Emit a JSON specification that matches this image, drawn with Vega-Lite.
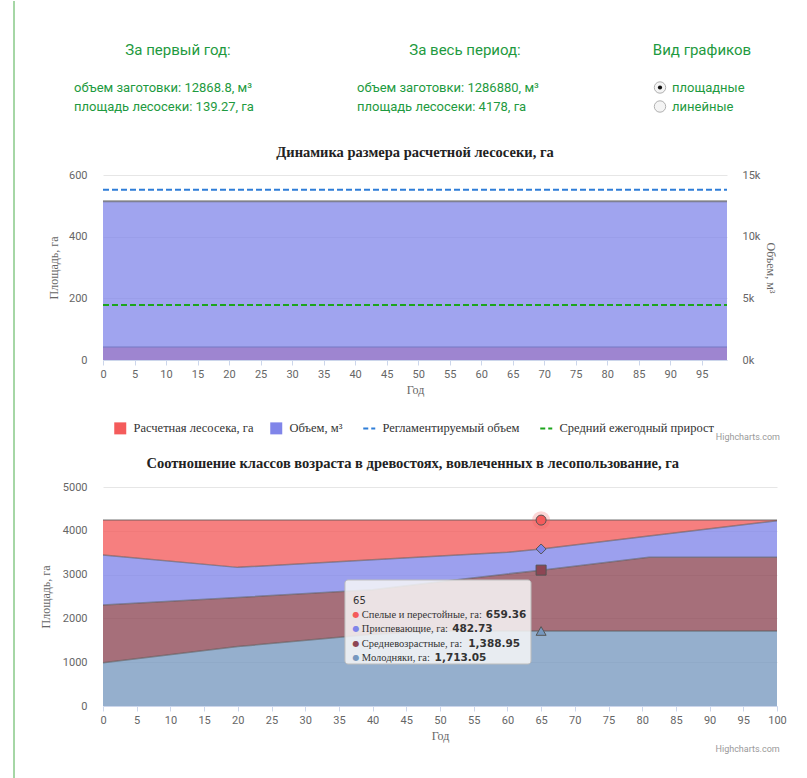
{
  "$schema": "https://vega.github.io/schema/vega-lite/v6.json",
  "padding": {"left": 13, "top": 0, "right": 0, "bottom": 0},
  "background": "white",
  "config": {
    "view": {"stroke": null},
    "axis": {
      "labelFont": "Roboto, sans-serif",
      "labelFontSize": 11, "labelColor": "#666666",
      "titleFont": "Liberation Serif, DejaVu Serif, serif", "titleFontSize": 12,
      "titleFontWeight": "normal", "titleColor": "#666666",
      "gridColor": "#e6e6e6", "domainColor": "#ccd6eb", "tickColor": "#ccd6eb"
    },
    "title": {"font": "Liberation Serif, DejaVu Serif, serif", "fontSize": 14.5, "fontWeight": "bold", "color": "#222222"}
  },
  "spacing": 24,
  "hconcat": [
    {
      "width": 1, "height": 700,
      "data": {"values": [{}]},
      "mark": {"type": "rule", "color": "#4cae4c", "strokeWidth": 1},
      "encoding": {
        "x": {"value": 0},
        "y": {"datum": 0, "type": "quantitative", "scale": {"domain": [0, 1], "range": [-77, 701]}, "axis": null},
        "y2": {"datum": 1}
      }
    },
    {
      "spacing": 9,
      "resolve": {"scale": {"color": "independent", "shape": "independent"}, "legend": {"color": "independent"}},
      "vconcat": [
        {
          "spacing": 10,
          "hconcat": [
            {
              "width": 180, "height": 57,
              "title": {"text": "За первый год:", "font": "Roboto, sans-serif", "fontSize": 15, "fontWeight": "normal", "color": "#1e9a40", "anchor": "middle", "frame": "group", "offset": 20, "dx": -15},
              "data": {"values": [{"row": "a", "t": "объем заготовки: 12868.8, м³"}, {"row": "b", "t": "площадь лесосеки: 139.27, га"}]},
              "mark": {"type": "text", "align": "left", "baseline": "middle", "font": "Roboto, sans-serif", "fontSize": 13, "color": "#1e9a40"},
              "encoding": {
                "x": {"value": -29},
                "y": {"field": "row", "type": "ordinal", "scale": {"domain": ["a", "b", "c"]}, "axis": null},
                "text": {"field": "t"}
              }
            },
            {
              "width": 349, "height": 57,
              "title": {"text": "За весь период:", "font": "Roboto, sans-serif", "fontSize": 15, "fontWeight": "normal", "color": "#1e9a40", "anchor": "middle", "frame": "group", "offset": 20, "dx": -2.5},
              "data": {"values": [{"row": "a", "t": "объем заготовки: 1286880, м³"}, {"row": "b", "t": "площадь лесосеки: 4178, га"}]},
              "mark": {"type": "text", "align": "left", "baseline": "middle", "font": "Roboto, sans-serif", "fontSize": 13, "color": "#1e9a40"},
              "encoding": {
                "x": {"value": 64},
                "y": {"field": "row", "type": "ordinal", "scale": {"domain": ["a", "b", "c"]}, "axis": null},
                "text": {"field": "t"}
              }
            },
            {
              "width": 96, "height": 57,
              "title": {"text": "Вид графиков", "font": "Roboto, sans-serif", "fontSize": 15, "fontWeight": "normal", "color": "#1e9a40", "anchor": "middle", "frame": "group", "offset": 20},
              "data": {"values": [{"row": "a", "t": "площадные", "sel": true}, {"row": "b", "t": "линейные", "sel": false}]},
              "encoding": {
                "y": {"field": "row", "type": "ordinal", "scale": {"domain": ["a", "b", "c"]}, "axis": null}
              },
              "layer": [
                {"mark": {"type": "point", "shape": "circle", "size": 130, "filled": true, "fill": "#f4f4f4", "stroke": "#b0b0b0", "strokeWidth": 1, "opacity": 1}, "encoding": {"x": {"value": 6}}},
                {"transform": [{"filter": "datum.sel"}], "mark": {"type": "point", "shape": "circle", "size": 18, "filled": true, "color": "#111111", "opacity": 1}, "encoding": {"x": {"value": 6}}},
                {"mark": {"type": "text", "align": "left", "baseline": "middle", "font": "Roboto, sans-serif", "fontSize": 13, "color": "#1e9a40"}, "encoding": {"x": {"value": 18}, "text": {"field": "t"}}}
              ]
            }
          ]
        },
        {
          "width": 624, "height": 185,
          "title": {"text": "Динамика размера расчетной лесосеки, га", "offset": 9, "frame": "group", "anchor": "middle"},
          "data": {"values": [
            {"series": "Расчетная лесосека, га", "year": 0, "v": 41.78},
            {"series": "Расчетная лесосека, га", "year": 99, "v": 41.78},
            {"series": "Объем, м³", "year": 0, "v": 12868.8},
            {"series": "Объем, м³", "year": 99, "v": 12868.8},
            {"series": "Регламентируемый объем", "year": 0, "v": 13800},
            {"series": "Регламентируемый объем", "year": 99, "v": 13800},
            {"series": "Средний ежегодный прирост", "year": 0, "v": 4450},
            {"series": "Средний ежегодный прирост", "year": 99, "v": 4450}
          ]},
          "encoding": {
            "x": {"field": "year", "type": "quantitative", "scale": {"domain": [0, 99], "nice": false, "zero": false},
                  "axis": {"values": [0, 5, 10, 15, 20, 25, 30, 35, 40, 45, 50, 55, 60, 65, 70, 75, 80, 85, 90, 95], "title": "Год", "grid": false, "tickSize": 5, "labelPadding": 3, "titlePadding": 5, "labelFlush": false}}
          },
          "layer": [
            {
              "encoding": {
                "y": {"field": "v", "type": "quantitative", "scale": {"domain": [0, 600], "nice": false},
                      "axis": {"orient": "left", "values": [0, 200, 400, 600], "title": "Площадь, га", "grid": true, "ticks": false, "domain": false, "labelPadding": 16, "titlePadding": 8}}
              },
              "layer": [
                {"transform": [{"filter": "datum.series === 'Расчетная лесосека, га'"}],
                 "mark": {"type": "area", "fillOpacity": 0.75},
                 "encoding": {"color": {"field": "series", "type": "nominal",
                   "scale": {"domain": ["Расчетная лесосека, га", "Объем, м³", "Регламентируемый объем", "Средний ежегодный прирост"], "range": ["#f45b5b", "#8085e9", "#2f7ed8", "#1ca51c"]},
                   "legend": {"title": null, "orient": "bottom", "direction": "horizontal", "offset": 16, "padding": 11,
                     "labelFont": "Liberation Serif, DejaVu Serif, serif", "labelFontSize": 12.5, "labelColor": "#333333",
                     "symbolSize": 144, "columnPadding": 16, "labelOffset": 7,
                     "encode": {"symbols": {"update": {
                       "shape": {"signal": "(datum.value === 'Регламентируемый объем' || datum.value === 'Средний ежегодный прирост') ? 'stroke' : 'square'"},
                       "fill": {"signal": "(datum.value === 'Регламентируемый объем' || datum.value === 'Средний ежегодный прирост') ? 'transparent' : scale('color', datum.value)"},
                       "stroke": {"signal": "(datum.value === 'Регламентируемый объем' || datum.value === 'Средний ежегодный прирост') ? scale('color', datum.value) : 'transparent'"},
                       "strokeDash": {"signal": "(datum.value === 'Регламентируемый объем' || datum.value === 'Средний ежегодный прирост') ? [5, 3] : [1, 0]"},
                       "strokeWidth": {"signal": "(datum.value === 'Регламентируемый объем' || datum.value === 'Средний ежегодный прирост') ? 2 : 0"},
                       "opacity": {"value": 1}, "fillOpacity": {"value": 1}, "strokeOpacity": {"value": 1}
                     }}}
                   }}}},
                {"transform": [{"filter": "datum.series === 'Расчетная лесосека, га'"}],
                 "mark": {"type": "line", "color": "#555555", "strokeWidth": 1.5, "opacity": 0.7}},
                {"transform": [{"filter": "datum.series === 'Объем, м³' && datum.year === 0"}],
                 "mark": {"type": "text", "align": "right", "baseline": "middle", "font": "Roboto, sans-serif", "fontSize": 9, "color": "#999999"},
                 "encoding": {"x": {"datum": 107.4}, "y": {"datum": -250}, "text": {"value": "Highcharts.com"}}}
              ]
            },
            {
              "encoding": {
                "y": {"field": "v", "type": "quantitative", "scale": {"domain": [0, 15000], "nice": false},
                      "axis": {"orient": "right", "values": [0, 5000, 10000, 15000], "labelExpr": "datum.value / 1000 + 'k'", "title": "Объем, м³", "grid": false, "ticks": false, "domain": false, "labelPadding": 15, "titlePadding": 4}}
              },
              "layer": [
                {"transform": [{"filter": "datum.series === 'Объем, м³'"}],
                 "mark": {"type": "area", "fillOpacity": 0.75},
                 "encoding": {"color": {"field": "series", "type": "nominal",
                   "scale": {"domain": ["Расчетная лесосека, га", "Объем, м³", "Регламентируемый объем", "Средний ежегодный прирост"], "range": ["#f45b5b", "#8085e9", "#2f7ed8", "#1ca51c"]}}}},
                {"transform": [{"filter": "datum.series === 'Объем, м³'"}],
                 "mark": {"type": "line", "color": "#666666", "strokeWidth": 2, "opacity": 0.7}},
                {"transform": [{"filter": "datum.series === 'Регламентируемый объем' || datum.series === 'Средний ежегодный прирост'"}],
                 "mark": {"type": "line", "strokeDash": [6, 3], "strokeWidth": 2},
                 "encoding": {"color": {"field": "series", "type": "nominal"}}}
              ]
            }
          ],
          "resolve": {"scale": {"y": "independent"}}
        },
        {
          "width": 674, "height": 219,
          "title": {"text": "Соотношение классов возраста в древостоях, вовлеченных в лесопользование, га", "offset": 10, "frame": "bounds", "anchor": "middle"},
          "data": {"values": [
            {"year": 0, "k": 1, "series": "Молодняки, га", "v": 985},
            {"year": 0, "k": 2, "series": "Средневозрастные, га", "v": 1319},
            {"year": 0, "k": 3, "series": "Приспевающие, га", "v": 1145},
            {"year": 0, "k": 4, "series": "Спелые и перестойные, га", "v": 795},
            {"year": 20, "k": 1, "series": "Молодняки, га", "v": 1357},
            {"year": 20, "k": 2, "series": "Средневозрастные, га", "v": 1122},
            {"year": 20, "k": 3, "series": "Приспевающие, га", "v": 686},
            {"year": 20, "k": 4, "series": "Спелые и перестойные, га", "v": 1079},
            {"year": 40, "k": 1, "series": "Молодняки, га", "v": 1640},
            {"year": 40, "k": 2, "series": "Средневозрастные, га", "v": 1014},
            {"year": 40, "k": 3, "series": "Приспевающие, га", "v": 683},
            {"year": 40, "k": 4, "series": "Спелые и перестойные, га", "v": 907},
            {"year": 50, "k": 1, "series": "Молодняки, га", "v": 1713},
            {"year": 50, "k": 2, "series": "Средневозрастные, га", "v": 1122},
            {"year": 50, "k": 3, "series": "Приспевающие, га", "v": 588},
            {"year": 50, "k": 4, "series": "Спелые и перестойные, га", "v": 821},
            {"year": 60, "k": 1, "series": "Молодняки, га", "v": 1713},
            {"year": 60, "k": 2, "series": "Средневозрастные, га", "v": 1302},
            {"year": 60, "k": 3, "series": "Приспевающие, га", "v": 493},
            {"year": 60, "k": 4, "series": "Спелые и перестойные, га", "v": 736},
            {"year": 65, "k": 1, "series": "Молодняки, га", "v": 1713.05},
            {"year": 65, "k": 2, "series": "Средневозрастные, га", "v": 1388.95},
            {"year": 65, "k": 3, "series": "Приспевающие, га", "v": 482.73},
            {"year": 65, "k": 4, "series": "Спелые и перестойные, га", "v": 659.36},
            {"year": 81, "k": 1, "series": "Молодняки, га", "v": 1713},
            {"year": 81, "k": 2, "series": "Средневозрастные, га", "v": 1681},
            {"year": 81, "k": 3, "series": "Приспевающие, га", "v": 486},
            {"year": 81, "k": 4, "series": "Спелые и перестойные, га", "v": 364},
            {"year": 100, "k": 1, "series": "Молодняки, га", "v": 1713},
            {"year": 100, "k": 2, "series": "Средневозрастные, га", "v": 1681},
            {"year": 100, "k": 3, "series": "Приспевающие, га", "v": 836},
            {"year": 100, "k": 4, "series": "Спелые и перестойные, га", "v": 14}
          ]},
          "transform": [{"stack": "v", "groupby": ["year"], "sort": [{"field": "k", "order": "ascending"}], "as": ["v0", "v1"]}],
          "encoding": {
            "x": {"field": "year", "type": "quantitative", "scale": {"domain": [0, 100], "nice": false, "zero": false},
                  "axis": {"values": [0, 5, 10, 15, 20, 25, 30, 35, 40, 45, 50, 55, 60, 65, 70, 75, 80, 85, 90, 95, 100], "title": "Год", "grid": false, "tickSize": 5, "labelPadding": 3, "titlePadding": 5, "labelFlush": false}}
          },
          "layer": [
            {"mark": {"type": "area", "fillOpacity": 0.78},
             "encoding": {
               "y": {"field": "v1", "type": "quantitative", "stack": null, "scale": {"domain": [0, 5000], "nice": false},
                     "axis": {"values": [0, 1000, 2000, 3000, 4000, 5000], "format": "d", "title": "Площадь, га", "grid": true, "ticks": false, "domain": false, "labelPadding": 16, "titlePadding": 10}},
               "y2": {"field": "v0"},
               "color": {"field": "series", "type": "nominal",
                 "scale": {"domain": ["Спелые и перестойные, га", "Приспевающие, га", "Средневозрастные, га", "Молодняки, га"], "range": ["#f45b5b", "#8085e9", "#8d4654", "#7798bf"]},
                 "legend": null}
             }},
            {"mark": {"type": "line", "color": "#555555", "strokeWidth": 1.5, "opacity": 0.55},
             "encoding": {"y": {"field": "v1", "type": "quantitative", "stack": null}, "detail": {"field": "series"}}},
            {"transform": [{"filter": "datum.year === 65 && datum.k === 4"}],
             "mark": {"type": "point", "shape": "circle", "filled": true, "size": 320, "color": "#f45b5b", "opacity": 0.25},
             "encoding": {"y": {"field": "v1", "type": "quantitative", "stack": null}}},
            {"transform": [{"filter": "datum.year === 65"}],
             "mark": {"type": "point", "filled": true, "size": 100, "stroke": "#555555", "strokeWidth": 1, "opacity": 1},
             "encoding": {
               "y": {"field": "v1", "type": "quantitative", "stack": null},
               "color": {"field": "series", "type": "nominal", "legend": null},
               "shape": {"field": "series", "type": "nominal",
                 "scale": {"domain": ["Спелые и перестойные, га", "Приспевающие, га", "Средневозрастные, га", "Молодняки, га"], "range": ["circle", "diamond", "square", "triangle-up"]},
                 "legend": null}
             }},
            {"transform": [{"filter": "datum.year === 65 && datum.k === 1"}],
             "mark": {"type": "rect", "fill": "#f7f7f7", "fillOpacity": 0.85, "stroke": "#bdbdbd", "strokeWidth": 1, "cornerRadius": 3},
             "encoding": {"x": {"datum": 35.9}, "x2": {"datum": 63.5}, "y": {"datum": 2877}, "y2": {"datum": 959}}},
            {"transform": [{"filter": "datum.year === 65 && datum.k === 1"}],
             "mark": {"type": "text", "align": "left", "baseline": "middle", "font": "DejaVu Sans", "fontSize": 10, "color": "#333333"},
             "encoding": {"x": {"datum": 37.1}, "y": {"datum": 2397}, "text": {"field": "year"}}},

            {"transform": [{"filter": "datum.year === 65 && datum.k === 4"}],
             "mark": {"type": "text", "align": "center", "baseline": "middle", "font": "DejaVu Sans", "fontSize": 8, "text": "●"},
             "encoding": {"x": {"datum": 37.55}, "y": {"datum": 2071}, "color": {"field": "series", "type": "nominal", "legend": null}}},
            {"transform": [{"filter": "datum.year === 65 && datum.k === 3"}],
             "mark": {"type": "text", "align": "center", "baseline": "middle", "font": "DejaVu Sans", "fontSize": 8, "text": "●"},
             "encoding": {"x": {"datum": 37.55}, "y": {"datum": 1751}, "color": {"field": "series", "type": "nominal", "legend": null}}},
            {"transform": [{"filter": "datum.year === 65 && datum.k === 2"}],
             "mark": {"type": "text", "align": "center", "baseline": "middle", "font": "DejaVu Sans", "fontSize": 8, "text": "●"},
             "encoding": {"x": {"datum": 37.55}, "y": {"datum": 1422}, "color": {"field": "series", "type": "nominal", "legend": null}}},
            {"transform": [{"filter": "datum.year === 65 && datum.k === 1"}],
             "mark": {"type": "text", "align": "center", "baseline": "middle", "font": "DejaVu Sans", "fontSize": 8, "text": "●"},
             "encoding": {"x": {"datum": 37.55}, "y": {"datum": 1103}, "color": {"field": "series", "type": "nominal", "legend": null}}},

            {"transform": [{"filter": "datum.year === 65 && datum.k === 4"}, {"calculate": "datum.series + ':'", "as": "lab"}],
             "mark": {"type": "text", "align": "left", "baseline": "middle", "font": "Liberation Serif, DejaVu Serif, serif", "fontSize": 10.5, "color": "#333333"},
             "encoding": {"x": {"datum": 38.4}, "y": {"datum": 2071}, "text": {"field": "lab"}}},
            {"transform": [{"filter": "datum.year === 65 && datum.k === 3"}, {"calculate": "datum.series + ':'", "as": "lab"}],
             "mark": {"type": "text", "align": "left", "baseline": "middle", "font": "Liberation Serif, DejaVu Serif, serif", "fontSize": 10.5, "color": "#333333"},
             "encoding": {"x": {"datum": 38.4}, "y": {"datum": 1751}, "text": {"field": "lab"}}},
            {"transform": [{"filter": "datum.year === 65 && datum.k === 2"}, {"calculate": "datum.series + ':'", "as": "lab"}],
             "mark": {"type": "text", "align": "left", "baseline": "middle", "font": "Liberation Serif, DejaVu Serif, serif", "fontSize": 10.5, "color": "#333333"},
             "encoding": {"x": {"datum": 38.4}, "y": {"datum": 1422}, "text": {"field": "lab"}}},
            {"transform": [{"filter": "datum.year === 65 && datum.k === 1"}, {"calculate": "datum.series + ':'", "as": "lab"}],
             "mark": {"type": "text", "align": "left", "baseline": "middle", "font": "Liberation Serif, DejaVu Serif, serif", "fontSize": 10.5, "color": "#333333"},
             "encoding": {"x": {"datum": 38.4}, "y": {"datum": 1103}, "text": {"field": "lab"}}},

            {"transform": [{"filter": "datum.year === 65 && datum.k === 4"}],
             "mark": {"type": "text", "align": "left", "baseline": "middle", "font": "DejaVu Sans", "fontSize": 10.5, "fontWeight": "bold", "color": "#333333"},
             "encoding": {"x": {"datum": 56.8}, "y": {"datum": 2071}, "text": {"field": "v", "format": ",.2f"}}},
            {"transform": [{"filter": "datum.year === 65 && datum.k === 3"}],
             "mark": {"type": "text", "align": "left", "baseline": "middle", "font": "DejaVu Sans", "fontSize": 10.5, "fontWeight": "bold", "color": "#333333"},
             "encoding": {"x": {"datum": 51.8}, "y": {"datum": 1751}, "text": {"field": "v", "format": ",.2f"}}},
            {"transform": [{"filter": "datum.year === 65 && datum.k === 2"}],
             "mark": {"type": "text", "align": "left", "baseline": "middle", "font": "DejaVu Sans", "fontSize": 10.5, "fontWeight": "bold", "color": "#333333"},
             "encoding": {"x": {"datum": 54.2}, "y": {"datum": 1422}, "text": {"field": "v", "format": ",.2f"}}},
            {"transform": [{"filter": "datum.year === 65 && datum.k === 1"}],
             "mark": {"type": "text", "align": "left", "baseline": "middle", "font": "DejaVu Sans", "fontSize": 10.5, "fontWeight": "bold", "color": "#333333"},
             "encoding": {"x": {"datum": 49.2}, "y": {"datum": 1103}, "text": {"field": "v", "format": ",.2f"}}},

            {"transform": [{"filter": "datum.year === 65 && datum.k === 1"}],
             "mark": {"type": "text", "align": "right", "baseline": "middle", "font": "Roboto, sans-serif", "fontSize": 9, "color": "#999999"},
             "encoding": {"x": {"datum": 100.4}, "y": {"datum": -984}, "text": {"value": "Highcharts.com"}}}
          ]
        }
      ]
    }
  ]
}
